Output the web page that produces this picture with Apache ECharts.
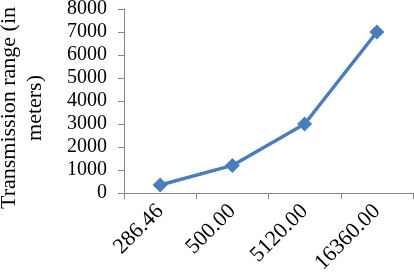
<!DOCTYPE html>
<html><head><meta charset="utf-8">
<script src="https://cdn.jsdelivr.net/npm/echarts@6/dist/echarts.min.js"></script>
<style>html,body{margin:0;padding:0;background:#fff}#c{width:414px;height:272px}</style>
</head><body><div id="c"></div>
<script>
const categories = ['286.46', '500.00', '5120.00', '16360.00'];
const rangeValues = [350, 1200, 3000, 7000];
const yTicks = [0, 1000, 2000, 3000, 4000, 5000, 6000, 7000, 8000];
const yTitle = 'Transmission range (in\nmeters)';

const chart = echarts.init(document.getElementById('c'), null, {renderer: 'canvas'});
const font = 'Liberation Serif';
chart.setOption({
  animation: false,
  grid: {left: 124, top: 9, right: 1, bottom: 79, containLabel: false, outerBoundsMode: 'none'},
  xAxis: {
    type: 'category', data: categories, boundaryGap: true,
    axisLine: {lineStyle: {color: '#868686', width: 1}},
    axisTick: {show: true, length: 6, lineStyle: {color: '#868686'}},
    axisLabel: {rotate: 45, fontFamily: font, fontSize: 22, color: '#000', margin: 15}
  },
  yAxis: {
    type: 'value', min: yTicks[0], max: yTicks[yTicks.length - 1], interval: 1000,
    name: yTitle, nameLocation: 'middle', nameRotate: 90, nameGap: 76,
    nameTextStyle: {fontFamily: font, fontSize: 22, color: '#000', lineHeight: 26, padding: [0, 14, 0, 0]},
    axisLine: {show: true, lineStyle: {color: '#868686', width: 1}},
    axisTick: {show: true, length: 6, lineStyle: {color: '#868686'}},
    splitLine: {show: false},
    axisLabel: {fontFamily: font, fontSize: 20, color: '#000', margin: 17, formatter: v => String(v)}
  },
  series: [{
    type: 'line', data: rangeValues,
    symbol: 'diamond', symbolSize: 15,
    lineStyle: {color: '#4a7ebb', width: 3.5},
    itemStyle: {color: '#4a7ebb'}
  }]
});
</script></body></html>
